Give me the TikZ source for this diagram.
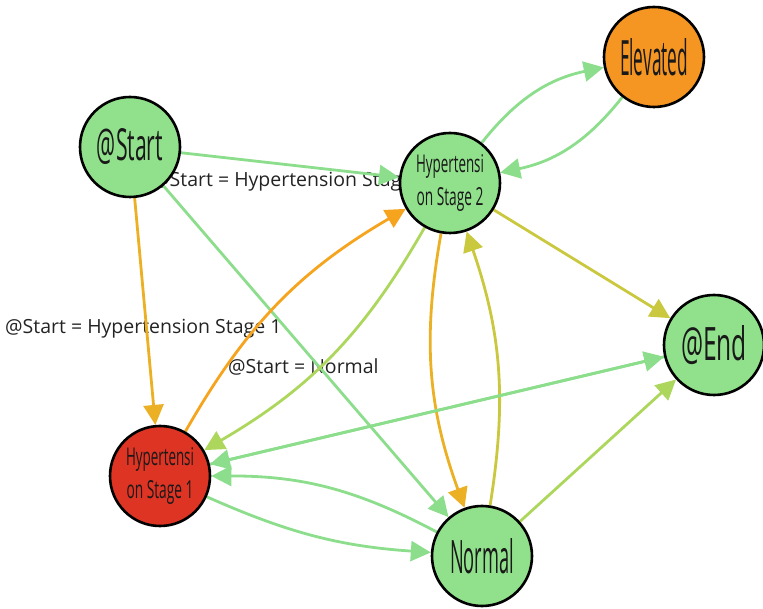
\documentclass[tikz,border=0pt]{standalone}
\usepackage{fontspec}
\setmainfont{Open Sans}
\usepackage{graphicx}
\usetikzlibrary{arrows.meta}

\pgfdeclarelayer{labels}
\pgfdeclarelayer{edges}
\pgfsetlayers{labels,edges,main}

% state fills
\definecolor{nodegreen}{RGB}{145,225,140}
\definecolor{nodeorange}{RGB}{245,150,35}
\definecolor{nodered}{RGB}{222,52,36}
% transition colours
\definecolor{edgegreen}{RGB}{140,222,140}
\definecolor{edgelime}{RGB}{172,215,92}
\definecolor{edgeolive}{RGB}{202,200,62}
\definecolor{edgegold}{RGB}{236,176,36}
\definecolor{edgeorange}{RGB}{246,164,30}
\definecolor{labelgray}{RGB}{35,35,35}

% word squeezed to a fixed width and height
\newcommand{\fitword}[3]{\resizebox{#1pt}{#2pt}{#3}}

\begin{document}
\begin{tikzpicture}[x=1pt,y=1pt,
  state/.style={circle, draw=black, line width=2.6pt, minimum size=100pt,
                inner sep=0pt, text=black!90, align=center,
                font=\fontsize{20}{33}\selectfont},
  flow/.style={line width=2.8pt, -{Triangle[length=20pt,width=20pt]}},
  cond/.style={font=\fontsize{19.5}{22}\selectfont, text=labelgray,
               inner sep=0pt, anchor=base west}
]
\useasboundingbox (0,0) rectangle (763,608);

% states
\node[state, fill=nodegreen]  (start)  at (130,461) {\fitword{66}{32}{@Start}};
\node[state, fill=nodeorange] (elev)   at (654,551) {\fitword{68}{37}{Elevated}};
\node[state, fill=nodegreen]  (hs2)    at (450,425) {\fitword{68}{18}{Hypertensi}\\\fitword{67}{18}{on Stage 2}};
\node[state, fill=nodegreen]  (end)    at (714,263) {\fitword{66}{35}{@End}};
\node[state, fill=nodered]    (hs1)    at (160,132) {\fitword{68}{18}{Hypertensi}\\\fitword{67}{18}{on Stage 1}};
\node[state, fill=nodegreen]  (normal) at (482,52)  {\fitword{64}{35}{Normal}};

% conditions on the transitions out of @Start
\begin{pgfonlayer}{labels}
\node[cond] (lblhs2)    at (152,421) {@Start = Hypertension Stage 2};
\node[cond] (lblhs1)    at (5,274)   {@Start = Hypertension Stage 1};
\node[cond] (lblnormal) at (228,234) {@Start = Normal};
\end{pgfonlayer}

% transitions
\begin{pgfonlayer}{edges}
\draw[flow, edgegreen]  (start) -- (hs2);
\draw[flow, edgegold]   (start) -- (hs1);
\draw[flow, edgegreen]  (start) -- (normal);
\draw[flow, edgeorange] (hs1) to[bend left=15] (hs2);
\draw[flow, edgelime]   (hs2) to[bend left=15] (hs1);
\draw[flow, edgegreen]  (hs2) to[bend left=20] (elev);
\draw[flow, edgegreen]  (elev) to[bend left=20] (hs2);
\draw[flow, edgeolive]  (hs2) -- (end);
\draw[flow, edgegold]   (hs2) to[bend right=15] (normal);
\draw[flow, edgeolive]  (normal) to[bend right=14] (hs2);
\draw[flow, edgegreen]  (hs1) -- (end);
\draw[flow, edgegreen]  (end) -- (hs1);
\draw[flow, edgegreen]  (hs1) to[bend right=10] (normal);
\draw[flow, edgegreen]  (normal) to[bend right=14] (hs1);
\draw[flow, edgelime]   (normal) -- (end);
\end{pgfonlayer}
\end{tikzpicture}
\end{document}
